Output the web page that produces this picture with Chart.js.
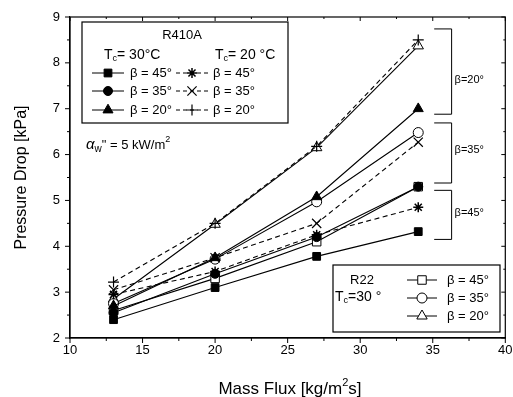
<!DOCTYPE html>
<html><head><meta charset="utf-8">
<script src="https://cdn.jsdelivr.net/npm/chart.js@4.4.1/dist/chart.umd.min.js"></script>
<style>html,body{margin:0;padding:0;background:#fff}#wrap{width:513px;height:397px}</style>
</head><body><div id="wrap"><canvas id="c" width="513" height="397"></canvas></div>
<script>
// ---- data ----
const massFlux = [13, 20, 27, 34];
const r410aTc30b45 = [2.40, 3.10, 3.78, 4.32];
const r410aTc30b35 = [2.55, 3.40, 4.20, 5.30];
const r410aTc30b20 = [2.70, 3.75, 5.08, 7.00];
const r410aTc20b45 = [2.95, 3.45, 4.25, 4.85];
const r410aTc20b35 = [3.05, 3.75, 4.50, 6.27];
const r410aTc20b20 = [3.22, 4.50, 6.18, 8.50];
const r22Tc30b45 = [2.60, 3.30, 4.10, 5.30];
const r22Tc30b35 = [2.75, 3.72, 4.97, 6.48];
const r22Tc30b20 = [2.85, 4.48, 6.15, 8.37];
const xTicks = [10, 15, 20, 25, 30, 35, 40];
const yTicks = [2, 3, 4, 5, 6, 7, 8, 9];
// bracket annotations (data units)
const bracketLabels = ['β=20°', 'β=35°', 'β=45°'];
const bracketTop = [8.74, 6.69, 5.22];
const bracketBottom = [6.88, 5.38, 4.15];
const bracketLabelY = [7.63, 6.10, 4.72];

const FONT = '"Liberation Sans", Arial, sans-serif';
const toPts = arr => arr.map((v, i) => ({x: massFlux[i], y: v}));

function ds(label, data, style, radius, filled, dashed, bw) {
  return {
    label, data: toPts(data), showLine: true, tension: 0,
    borderColor: '#000', borderWidth: 1.1, borderDash: dashed ? [5, 3.5] : [],
    pointStyle: style, pointRadius: radius, pointHoverRadius: radius,
    pointBackgroundColor: filled ? '#000' : '#fff', pointBorderColor: '#000',
    pointBorderWidth: bw || 1, backgroundColor: filled ? '#000' : '#fff', fill: false
  };
}

const datasets = [
  ds('R410A Tc=30 β=45', r410aTc30b45, 'rect', 5.5, true, false),
  ds('R410A Tc=30 β=35', r410aTc30b35, 'circle', 4.5, true, false),
  ds('R410A Tc=30 β=20', r410aTc30b20, 'triangle', 5.8, true, false),
  ds('R410A Tc=20 β=45', r410aTc20b45, 'star', 5, false, true, 1.5),
  ds('R410A Tc=20 β=35', r410aTc20b35, 'crossRot', 6.5, false, true, 1.2),
  ds('R410A Tc=20 β=20', r410aTc20b20, 'cross', 5.5, false, true, 1.2),
  ds('R22 Tc=30 β=45', r22Tc30b45, 'rect', 6, false, false),
  ds('R22 Tc=30 β=35', r22Tc30b35, 'circle', 5, false, false),
  ds('R22 Tc=30 β=20', r22Tc30b20, 'triangle', 6, false, false)
];

function drawParts(ctx, x, y, parts) {
  let cx = x;
  for (const p of parts) {
    ctx.font = (p.italic ? 'italic ' : '') + p.size + 'px ' + (p.font || FONT);
    ctx.fillText(p.t, cx, y + (p.dy || 0));
    cx += ctx.measureText(p.t).width + (p.gap || 0);
  }
}

function marker(ctx, style, r, filled, x, y, bw) {
  ctx.save();
  ctx.setLineDash([]);
  ctx.fillStyle = filled ? '#000' : '#fff';
  ctx.strokeStyle = '#000';
  ctx.lineWidth = bw || 1;
  Chart.helpers.drawPoint(ctx, {pointStyle: style, radius: r, rotation: 0, borderWidth: bw || 1}, x, y);
  ctx.restore();
}

function legendLine(ctx, x1, x2, y, dashed, style, r, filled, bw) {
  ctx.save();
  ctx.strokeStyle = '#000'; ctx.lineWidth = 1;
  ctx.setLineDash(dashed ? [4, 3] : []);
  ctx.beginPath(); ctx.moveTo(x1, y); ctx.lineTo(x2, y); ctx.stroke();
  ctx.restore();
  marker(ctx, style, r, filled, (x1 + x2) / 2, y, bw);
}

const decor = {
  id: 'decor',
  afterDraw(chart) {
    const ctx = chart.ctx, a = chart.chartArea, xs = chart.scales.x, ys = chart.scales.y;
    ctx.save();
    ctx.strokeStyle = '#000'; ctx.fillStyle = '#000'; ctx.lineWidth = 1.2;
    // frame
    ctx.strokeRect(a.left, a.top, a.right - a.left, a.bottom - a.top);
    ctx.lineWidth = 1;
    // ticks
    ctx.beginPath();
    for (let v = 10; v <= 40; v += 2.5) {
      const px = xs.getPixelForValue(v), len = (v % 5 === 0) ? 5 : 3;
      ctx.moveTo(px, a.bottom); ctx.lineTo(px, a.bottom + len);
      ctx.moveTo(px, a.top); ctx.lineTo(px, a.top + len - 1);
    }
    for (let v = 2; v <= 9; v += 0.5) {
      const py = ys.getPixelForValue(v), len = (v % 1 === 0) ? 5 : 3;
      ctx.moveTo(a.left, py); ctx.lineTo(a.left - len, py);
      ctx.moveTo(a.right, py); ctx.lineTo(a.right - len + 1, py);
    }
    ctx.stroke();
    // axis titles
    ctx.textBaseline = 'middle';
    ctx.textAlign = 'left';
    ctx.font = '17px ' + FONT;
    const t1 = 'Mass Flux [kg/m', t2 = 's]';
    const w1 = ctx.measureText(t1).width, w2 = ctx.measureText(t2).width;
    ctx.font = '11px ' + FONT; const wsup = ctx.measureText('2').width;
    let tx = 290 - (w1 + wsup + w2) / 2;
    drawParts(ctx, tx, 389, [{t: t1, size: 17}, {t: '2', size: 11, dy: -6}, {t: t2, size: 17}]);
    ctx.save();
    ctx.translate(22, (a.top + a.bottom) / 2);
    ctx.rotate(-Math.PI / 2);
    ctx.textAlign = 'center';
    ctx.font = '16px ' + FONT;
    ctx.fillText('Pressure Drop [kPa]', 0, 0);
    ctx.restore();

    // brackets
    ctx.lineWidth = 1;
    const bx1 = xs.getPixelForValue(35.1), bx2 = xs.getPixelForValue(36.3);
    for (let i = 0; i < bracketLabels.length; i++) {
      const yt = ys.getPixelForValue(bracketTop[i]), yb = ys.getPixelForValue(bracketBottom[i]);
      ctx.beginPath();
      ctx.moveTo(bx1, yt); ctx.lineTo(bx2, yt); ctx.lineTo(bx2, yb); ctx.lineTo(bx1, yb);
      ctx.stroke();
      ctx.textAlign = 'left';
      ctx.font = '11px ' + FONT;
      ctx.fillText(bracketLabels[i], bx2 + 3, ys.getPixelForValue(bracketLabelY[i]));
    }

    // legend box 1 (R410A)
    ctx.lineWidth = 1.2;
    ctx.strokeRect(82, 22, 206, 101);
    ctx.textAlign = 'center';
    ctx.font = '13px ' + FONT;
    ctx.fillText('R410A', 182, 35);
    ctx.textAlign = 'left';
    drawParts(ctx, 104, 55, [{t: 'T', size: 14}, {t: 'c', size: 9, dy: 4}, {t: '= 30°C', size: 14}]);
    drawParts(ctx, 215, 55, [{t: 'T', size: 14}, {t: 'c', size: 9, dy: 4}, {t: '= 20 °C', size: 14}]);
    const rowsY = [73, 91, 110];
    const betas = ['β = 45°', 'β = 35°', 'β = 20°'];
    const leftSt = [['rect', 5.5, true, 1], ['circle', 4.5, true, 1], ['triangle', 5.8, true, 1]];
    const rightSt = [['star', 5, false, 1.5], ['crossRot', 6.5, false, 1.2], ['cross', 5.5, false, 1.2]];
    for (let i = 0; i < 3; i++) {
      legendLine(ctx, 92, 124, rowsY[i], false, leftSt[i][0], leftSt[i][1], leftSt[i][2], leftSt[i][3]);
      legendLine(ctx, 176, 208, rowsY[i], true, rightSt[i][0], rightSt[i][1], rightSt[i][2], rightSt[i][3]);
      ctx.fillStyle = '#000';
      ctx.font = '13px ' + FONT;
      ctx.fillText(betas[i], 130, rowsY[i]);
      ctx.fillText(betas[i], 213, rowsY[i]);
    }
    // heat flux note
    drawParts(ctx, 86, 145, [{t: 'α', size: 15, italic: true}, {t: 'w', size: 10, dy: 4}, {t: '" = 5 kW/m', size: 13, dy: 0}, {t: '2', size: 9, dy: -5}]);

    // legend box 2 (R22)
    ctx.lineWidth = 1.2;
    ctx.strokeRect(333, 265, 167, 67);
    ctx.font = '13px ' + FONT;
    ctx.textAlign = 'center';
    ctx.fillText('R22', 362, 280);
    ctx.textAlign = 'left';
    drawParts(ctx, 335, 297, [{t: 'T', size: 14}, {t: 'c', size: 9, dy: 4}, {t: '=30 °', size: 14}]);
    const rows2 = [280, 298, 316];
    const st2 = [['rect', 6, false], ['circle', 5, false], ['triangle', 6, false]];
    for (let i = 0; i < 3; i++) {
      legendLine(ctx, 407, 437, rows2[i], false, st2[i][0], st2[i][1], st2[i][2], 1);
      ctx.fillStyle = '#000';
      ctx.font = '13px ' + FONT;
      ctx.fillText(betas[i], 447, rows2[i]);
    }
    ctx.restore();
  }
};

new Chart(document.getElementById('c'), {
  type: 'scatter',
  data: {datasets},
  options: {
    responsive: false, animation: false, devicePixelRatio: 1,
    layout: {padding: {top: 17, right: 7, left: 0, bottom: 0}},
    plugins: {legend: {display: false}, tooltip: {enabled: false}},
    scales: {
      x: {
        type: 'linear', min: 10, max: 40,
        afterBuildTicks: s => { s.ticks = xTicks.map(v => ({value: v})); },
        ticks: {color: '#000', font: {size: 13, family: FONT}, padding: 5, maxRotation: 0},
        grid: {display: true, drawOnChartArea: false, drawTicks: false},
        border: {display: true, color: '#000', width: 1.2},
        afterFit: s => { s.height = 59; s.paddingLeft = 0; s.paddingRight = 0; }
      },
      y: {
        type: 'linear', min: 2, max: 9,
        afterBuildTicks: s => { s.ticks = yTicks.map(v => ({value: v})); },
        ticks: {color: '#000', font: {size: 13, family: FONT}, padding: 10},
        grid: {display: true, drawOnChartArea: false, drawTicks: false},
        border: {display: true, color: '#000', width: 1.2},
        afterFit: s => { s.width = 70; s.paddingTop = 0; s.paddingBottom = 0; }
      }
    }
  },
  plugins: [decor]
});
</script></body></html>
